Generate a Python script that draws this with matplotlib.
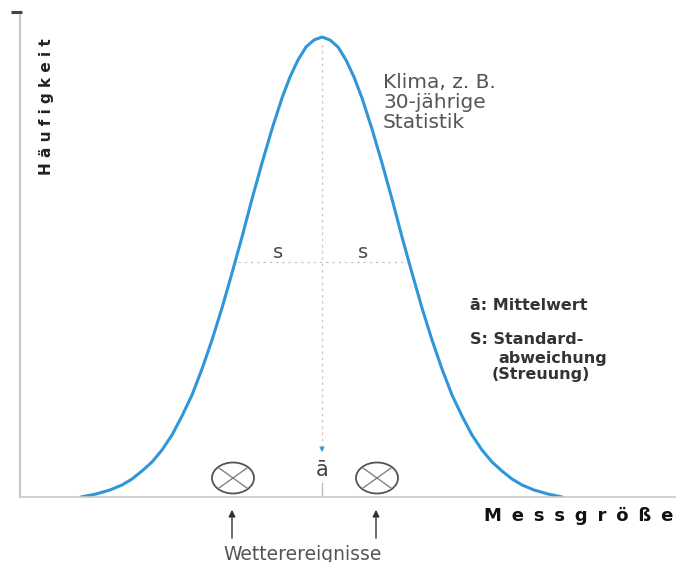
import matplotlib
matplotlib.use("Agg")
import matplotlib.pyplot as plt
from matplotlib.patches import Ellipse

plt.rcParams['font.family'] = ['DejaVu Sans']

# Haeufigkeitsverteilung (Messgroesse, Haeufigkeit)
curve_x = [61, 76, 90, 102, 112, 122, 132, 142, 152, 162, 172, 182, 192, 202,
           212, 222, 232, 242, 252, 262, 270, 278, 286, 294, 302,
           310, 318, 326, 334, 342, 352, 362, 372, 382, 392, 402, 412, 422,
           432, 442, 452, 462, 472, 482, 492, 502, 514, 528, 542]
curve_y = [0, 3, 7, 12, 18, 26, 35, 47, 62, 81, 102, 128, 157, 189,
           224, 260, 298, 334, 368, 399, 420, 437, 450, 457, 460,
           457, 450, 437, 420, 399, 368, 334, 298, 260, 224, 189, 157, 128,
           102, 81, 62, 47, 35, 26, 18, 12, 7, 3, 0]

mean_x = 302
s_y = 235
s_left = 218
s_right = 387
events_x = [213, 357]
event_y = 19

W, H = 676, 562
fig = plt.figure(figsize=(W / 100, H / 100), dpi=100)
ax = fig.add_axes([20 / W, (H - 497) / H, (W - 20) / W, (497 - 12) / H])
ax.set_xlim(0, 656)
ax.set_ylim(0, 485)
for sp in ['top', 'right']:
    ax.spines[sp].set_visible(False)
ax.spines['left'].set_color('#c8c8c8')
ax.spines['bottom'].set_color('#c8c8c8')
ax.spines['left'].set_linewidth(1.5)
ax.spines['bottom'].set_linewidth(1.2)
ax.set_xticks([])
ax.set_yticks([])

# kleiner Strich oben an der y-Achse
ax.plot([-9, 2], [485, 485], color='#444444', lw=2.2, clip_on=False,
        solid_capstyle='butt', zorder=5)

# Mittelwert und Streuung
ax.plot([mean_x, mean_x], [50, 455], color='#c8c8c8', lw=0.9, ls=(0, (2, 3)))
ax.plot([s_left, s_right], [s_y, s_y], color='#c8c8c8', lw=0.9, ls=(0, (2, 3)))
ax.plot([mean_x, mean_x], [0, 14], color='#bbbbbb', lw=1)
ax.annotate('', xy=(mean_x, 42), xytext=(mean_x, 52),
            arrowprops=dict(arrowstyle='-|>', color='#3a9ad9', lw=0.8,
                            mutation_scale=7))
ax.text(mean_x, 27, 'ā', ha='center', va='center', fontsize=15, color='#444444')
ax.text(258, 244, 's', ha='center', va='center', fontsize=14, color='#4a4a4a')
ax.text(343, 244, 's', ha='center', va='center', fontsize=14, color='#4a4a4a')

ax.plot(curve_x, curve_y, color='#2f97d8', lw=2.2, solid_capstyle='round',
        solid_joinstyle='round')

# Wetterereignisse
for ex in events_x:
    ax.add_patch(Ellipse((ex, event_y), 42, 31, fill=False, ec='#555555', lw=1.3))
    ax.plot([ex - 14, ex + 14], [event_y - 10, event_y + 10], color='#777777', lw=0.9)
    ax.plot([ex - 14, ex + 14], [event_y + 10, event_y - 10], color='#777777', lw=0.9)
    ax.annotate('', xy=(ex - 1, -10), xytext=(ex - 1, -44),
                arrowprops=dict(arrowstyle='-|>', color='#333333', lw=1,
                                mutation_scale=10), annotation_clip=False)
ax.text(283, -57, 'Wetterereignisse', ha='center', va='center', fontsize=13.5,
        color='#555555', clip_on=False)

klima = ['Klima, z. B.', '30-jährige', 'Statistik']
for i, line in enumerate(klima):
    ax.text(363, 414 - 20 * i, line, ha='left', va='center',
            fontsize=14.5, color='#555555')

legend_lines = [(450, 192, 'ā: Mittelwert'), (450, 157, 'S: Standard-'),
                (478, 139, 'abweichung'), (472, 122, '(Streuung)')]
for lx, ly, txt in legend_lines:
    ax.text(lx, ly, txt, fontsize=11.5, fontweight='bold', color='#333333',
            va='center')

gap = ' \u2009'
fig.text(579 / W, 1 - 516 / H, gap.join('Messgröße'), ha='center', va='center',
         fontsize=13, fontweight='bold', color='#111111')
fig.text(47 / W, 1 - 107 / H, ' '.join('Häufigkeit'), ha='center', va='center',
         rotation=90, fontsize=11, fontweight='bold', color='#222222')

fig.savefig('out.png', dpi=100, facecolor='white')
